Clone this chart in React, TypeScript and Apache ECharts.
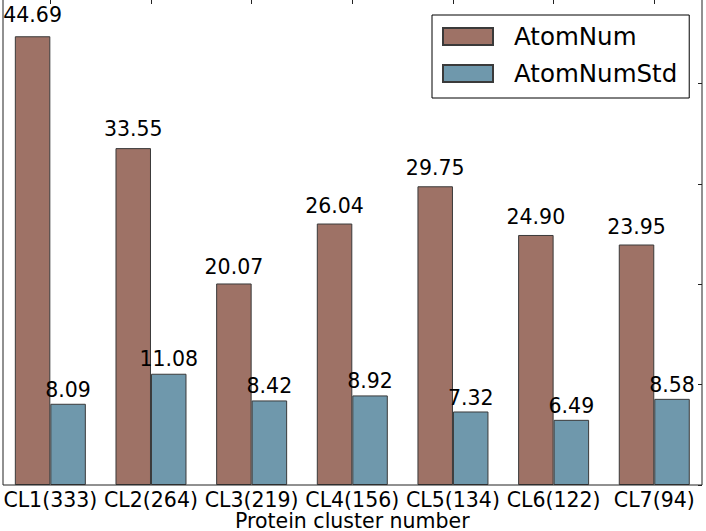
import React, { useEffect, useRef } from "react";
import * as echarts from "echarts";

const categories = ["CL1(333)", "CL2(264)", "CL3(219)", "CL4(156)", "CL5(134)", "CL6(122)", "CL7(94)"];
const atomNum = [44.69, 33.55, 20.07, 26.04, 29.75, 24.9, 23.95];
const atomNumStd = [8.09, 11.08, 8.42, 8.92, 7.32, 6.49, 8.58];
const seriesNames = ["AtomNum", "AtomNumStd"];
const yMax = 48.4;
const yTickInterval = 10;

const W = 706;
const H = 531;
const GRID_TOP = -1;
const GRID_BOTTOM = 46;
const FONT = "DejaVu Sans";

export default function App() {
  const ref = useRef<HTMLDivElement>(null);
  useEffect(() => {
    if (!ref.current) return;
    const chart = echarts.init(ref.current, undefined, { renderer: "svg" });
    const ppu = (H - GRID_BOTTOM - GRID_TOP) / yMax;
    const mkData = (arr: number[]) =>
      arr.map((v) => ({
        value: v,
        label: { distance: 0.02 * v * ppu + 2 },
      }));
    const labelFmt = (p: any) => Number(p.value).toFixed(2);
    chart.setOption({
      animation: false,
      backgroundColor: "#fff",
      textStyle: { fontFamily: FONT },
      grid: [
        { left: 0, right: 1.4, top: GRID_TOP, bottom: GRID_BOTTOM, outerBoundsMode: "none", containLabel: false },
        {
          left: 3,
          right: 4,
          top: GRID_TOP,
          bottom: GRID_BOTTOM,
          outerBoundsMode: "none",
          containLabel: false,
          show: true,
          borderColor: "#222",
          borderWidth: 1,
          backgroundColor: "transparent",
          z: 5,
        },
      ],
      legend: {
        orient: "vertical",
        left: 432,
        top: 15,
        itemWidth: 50,
        itemHeight: 17,
        itemGap: 12,
        padding: [9, 12, 12, 10],
        borderColor: "#000",
        borderWidth: 1,
        borderRadius: 0,
        backgroundColor: "#fff",
        icon: "rect",
        data: seriesNames,
        textStyle: { fontSize: 24.5, color: "#000", fontFamily: FONT, padding: [0, 0, 0, 16] },
        z: 10,
      },
      xAxis: [
        {
          type: "category",
          gridIndex: 0,
          data: categories,
          position: "bottom",
          axisLine: { show: false },
          axisTick: { show: false },
          axisLabel: { fontSize: 20.5, color: "#000", fontFamily: FONT, margin: 4, interval: 0 },
          name: "Protein cluster number",
          nameLocation: "middle",
          nameGap: 25,
          nameMoveOverlap: false,
          nameTextStyle: { fontSize: 20.5, color: "#000", fontFamily: FONT },
        },
        {
          type: "category",
          gridIndex: 0,
          data: categories,
          position: "top",
          axisLine: { show: false, onZero: false },
          axisTick: { show: true, inside: true, length: 5, alignWithLabel: true, lineStyle: { color: "#222" } },
          axisLabel: { show: false },
        },
        { type: "value", gridIndex: 1, show: false, min: 0, max: 1 },
      ],
      yAxis: [
        { type: "value", gridIndex: 0, min: 0, max: yMax, show: false },
        {
          type: "value",
          gridIndex: 1,
          min: 0,
          max: yMax,
          interval: yTickInterval,
          position: "right",
          axisLine: { show: false, onZero: false },
          axisTick: { show: true, inside: true, length: 4, lineStyle: { color: "#222" } },
          axisLabel: { show: false },
          splitLine: { show: false },
        },
      ],
      series: [
        {
          name: seriesNames[0],
          type: "bar",
          xAxisIndex: 0,
          yAxisIndex: 0,
          data: mkData(atomNum),
          barWidth: 35.5,
          barGap: "0%",
          itemStyle: { color: "#9E7266", borderColor: "#3a3a3a", borderWidth: 1 },
          label: {
            show: true,
            position: "top",
            formatter: labelFmt,
            fontSize: 20.5,
            color: "#000",
            fontFamily: FONT,
          },
        },
        {
          name: seriesNames[1],
          type: "bar",
          xAxisIndex: 0,
          yAxisIndex: 0,
          data: mkData(atomNumStd),
          barWidth: 35.5,
          barGap: "0%",
          itemStyle: { color: "#6F98AC", borderColor: "#3a3a3a", borderWidth: 1 },
          label: {
            show: true,
            position: "top",
            formatter: labelFmt,
            fontSize: 20.5,
            color: "#000",
            fontFamily: FONT,
          },
        },
      ],
    });
    return () => chart.dispose();
  }, []);
  return <div ref={ref} style={{ position: "absolute", left: 0, top: 0, width: W, height: H }} />;
}
